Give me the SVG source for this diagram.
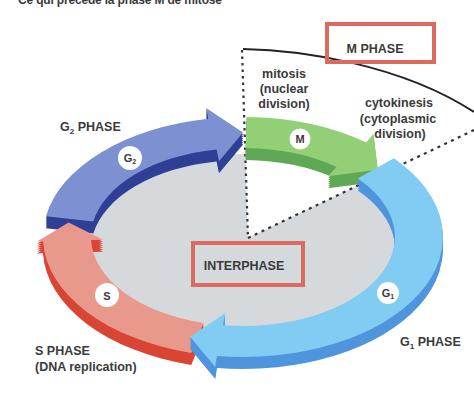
<svg xmlns="http://www.w3.org/2000/svg" width="474" height="410" viewBox="0 0 474 410">
<style>
text{font-family:"Liberation Sans",Arial,sans-serif;font-weight:bold;fill:#3a3a3a}
.lbl{font-size:12.5px}
.sub{font-size:8px}
.cl{font-size:11px}
.cs{font-size:7px}
.cir{fill:#fff}
.box{fill:none;stroke:#dc6a5f;stroke-width:4}
.dot{fill:none;stroke:#333;stroke-width:2.2;stroke-dasharray:2.5 4}
</style>
<defs>
<path id="pG2" d="M46,216.2 A200 120 0 0 1 208.3,118.8 L206.2,108 L243,132.5 L219,161.2 L216.6,149.4 A152 89 0 0 0 93.3,221.5 Z"/>
<path id="pM" d="M246.5,117 A200 120 0 0 1 366.1,142.4 L373.5,133.8 L377.8,169.8 L328,176.3 L336.6,166.9 A152 89 0 0 0 245.7,148 Z"/>
<path id="pG1" d="M393.9,158.3 A200 120 0 0 1 216.9,356 L215.3,366.9 L190.1,336.7 L225,313.3 L223.2,325.2 A152 89 0 0 0 357.7,178.6 Z"/>
<path id="pS" d="M191.2,352.9 A200 120 0 0 1 43.1,241.2 L37.1,241.4 L68.7,222.5 L103.1,239.8 L91.1,240.1 A152 89 0 0 0 203.7,323 Z"/>
</defs>
<rect width="474" height="410" fill="#fff"/>
<text x="18" y="4" font-size="12" textLength="204" fill="#222">Ce qui précède la phase M de mitose</text>
<ellipse cx="243" cy="243" rx="152" ry="89" fill="#d6d9dc"/>
<polygon points="248,238 245,140 400,140 400,165" fill="#fff"/>

<g id="connectors">
<line class="dot" x1="248" y1="238" x2="474" y2="130" style="stroke-dasharray:3 4.5"/>
<line class="dot" x1="242" y1="50" x2="248" y2="238"/>
<path d="M243,49 C300,50 400,64 474,112" fill="none" stroke="#222" stroke-width="2"/>
</g>

<g id="node-M">
<g fill="#5ea856"><use href="#pM" y="2"/><use href="#pM" y="4"/><use href="#pM" y="6"/><use href="#pM" y="8"/><use href="#pM" y="10"/><use href="#pM" y="12"/></g>
<use href="#pM" fill="#92cf76"/>
<circle class="cir" cx="300" cy="139" r="10.5"/>
<text class="cl" x="300" y="143" text-anchor="middle">M</text>
<text class="lbl" x="284" y="78" text-anchor="middle">mitosis</text>
<text class="lbl" x="284" y="93" text-anchor="middle">(nuclear</text>
<text class="lbl" x="284" y="108" text-anchor="middle">division)</text>
<text class="lbl" x="399" y="107" text-anchor="middle">cytokinesis</text>
<text class="lbl" x="398" y="123" text-anchor="middle">(cytoplasmic</text>
<text class="lbl" x="400" y="138" text-anchor="middle">division)</text>
</g>

<g id="node-G2">
<g fill="#2e3f95"><use href="#pG2" y="2"/><use href="#pG2" y="4"/><use href="#pG2" y="6"/><use href="#pG2" y="8"/><use href="#pG2" y="10"/><use href="#pG2" y="12"/></g>
<use href="#pG2" fill="#7d91d2"/>
<circle class="cir" cx="130" cy="158" r="12"/>
<text class="cl" x="130" y="162" text-anchor="middle">G<tspan class="cs" dy="2">2</tspan></text>
<text class="lbl" x="60" y="131">G<tspan class="sub" dy="3">2</tspan><tspan dy="-3"> PHASE</tspan></text>
</g>

<g id="node-S">
<g fill="#d84535"><use href="#pS" y="2"/><use href="#pS" y="4"/><use href="#pS" y="6"/><use href="#pS" y="8"/><use href="#pS" y="10"/><use href="#pS" y="12"/></g>
<use href="#pS" fill="#e9998b"/>
<circle class="cir" cx="107" cy="295" r="12"/>
<text class="cl" x="107" y="299.5" text-anchor="middle">S</text>
<text class="lbl" x="35" y="355">S PHASE</text>
<text class="lbl" x="35" y="371">(DNA replication)</text>
</g>

<g id="node-G1">
<g fill="#4f95dd"><use href="#pG1" y="2"/><use href="#pG1" y="4"/><use href="#pG1" y="6"/><use href="#pG1" y="8"/><use href="#pG1" y="10"/><use href="#pG1" y="12"/></g>
<use href="#pG1" fill="#80ccf2"/>
<circle class="cir" cx="388" cy="293" r="11"/>
<text class="cl" x="388" y="297" text-anchor="middle">G<tspan class="cs" dy="2">1</tspan></text>
<text class="lbl" x="400" y="346">G<tspan class="sub" dy="3">1</tspan><tspan dy="-3"> PHASE</tspan></text>
</g>

<g id="node-interphase">
<rect class="box" x="193" y="243" width="110" height="42"/>
<text class="lbl" x="244" y="270" text-anchor="middle">INTERPHASE</text>
</g>

<g id="node-mphase">
<rect class="box" x="327" y="24" width="107" height="38"/>
<text class="lbl" x="375" y="53" text-anchor="middle">M PHASE</text>
</g>
</svg>
